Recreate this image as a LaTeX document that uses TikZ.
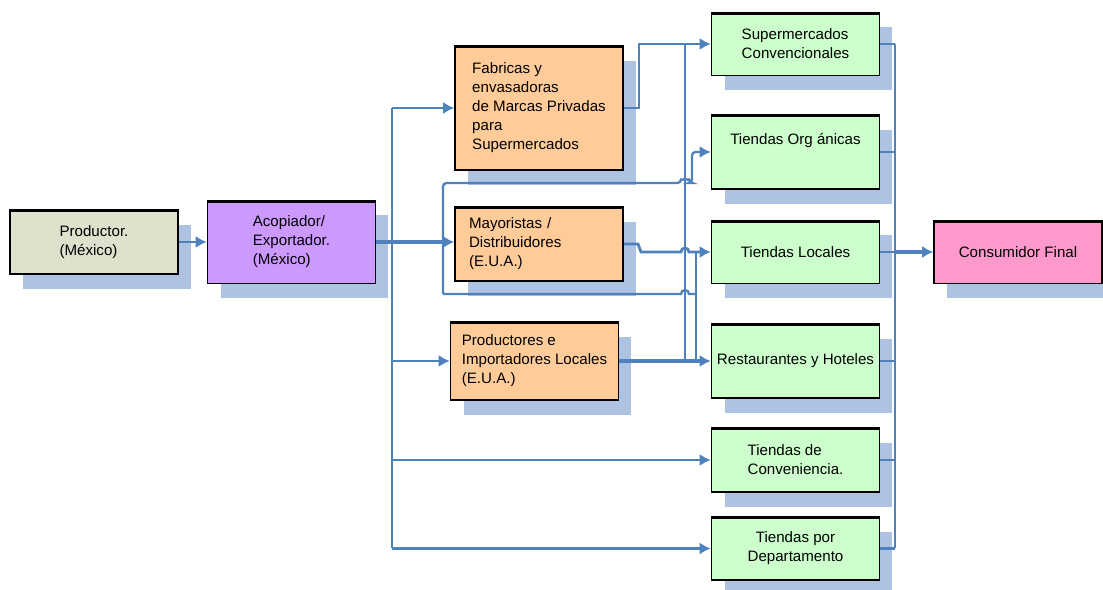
\documentclass[tikz,border=0pt]{standalone}
\usepackage{fontspec}
\setmainfont{Liberation Sans}
\usepackage{tikz}
\usetikzlibrary{arrows.meta,calc,shadows}
\definecolor{flowblue}{RGB}{79,129,189}
\definecolor{shadowblue}{RGB}{174,194,226}
\definecolor{prodfill}{RGB}{221,226,204}
\definecolor{acopfill}{RGB}{204,153,255}
\definecolor{orangefill}{RGB}{255,204,153}
\definecolor{greenfill}{RGB}{204,255,204}
\definecolor{pinkfill}{RGB}{255,153,204}
\tikzset{
    chainbox/.style={
        rectangle,
        draw=black,
        line width=0.9pt,
        minimum width=3.36cm,
        inner sep=3pt,
        align=left,
        font=\fontsize{8.6}{10.8}\selectfont,
        drop shadow={shadow xshift=0.26cm, shadow yshift=-0.3cm, fill=shadowblue, opacity=1},
        path picture={
            \draw[line width=2.4pt] (path picture bounding box.north west) -- (path picture bounding box.north east);
        }
    },
    prodbox/.style={chainbox, fill=prodfill, minimum height=1.28cm},
    acopbox/.style={chainbox, fill=acopfill, minimum height=1.66cm},
    agentbox/.style={chainbox, fill=orangefill},
    outletbox/.style={chainbox, fill=greenfill},
    finalbox/.style={chainbox, fill=pinkfill, minimum height=1.26cm},
    line/.style={
        draw=flowblue,
        line width=1.3pt
    },
    flow/.style={
        ->,
        line,
        >={Latex[length=2.2mm,width=2.4mm]}
    },
    thickflow/.style={
        flow,
        line width=2.2pt
    }
}
\begin{document}
\begin{tikzpicture}[x=0.02cm, y=-0.02cm]
    % Origin
    \node[prodbox] (prod) at (94,242) {Productor.\\(México)};
    \node[acopbox] (acop) at (291.5,242) {Acopiador/\\Exportador.\\(México)};

    % Intermediaries (E.U.A.)
    \node[agentbox, minimum height=2.48cm] (fabr)    at (539,108)   {Fabricas y\\envasadoras\\de Marcas Privadas\\para\\Supermercados};
    \node[agentbox, minimum height=1.48cm, text width=2.8cm] (mayo) at (539,244) {Mayoristas /\\Distribuidores\\(E.U.A.)};
    \node[agentbox, minimum height=1.56cm] (prodloc) at (534.5,361) {Productores e\\Importadores Locales\\(E.U.A.)};

    % Retail outlets
    \node[outletbox, minimum height=1.26cm] (super) at (795.5,44)    {Supermercados\\Convencionales};
    \node[outletbox, minimum height=1.48cm] (organ) at (795.5,152)   {Tiendas Org ánicas\\[4pt]{}};
    \node[outletbox, minimum height=1.26cm] (local) at (795.5,252)   {Tiendas Locales};
    \node[outletbox, minimum height=1.48cm] (resta) at (795.5,361)   {Restaurantes y Hoteles};
    \node[outletbox, minimum height=1.28cm] (conv)  at (795.5,460)   {Tiendas de\\Conveniencia.};
    \node[outletbox, minimum height=1.26cm, align=center] (depto) at (795.5,548.5) {Tiendas por\\Departamento};

    \node[finalbox] (consu) at (1018,252) {Consumidor Final};

    % Bus lines
    \coordinate (busL) at (392,0);
    \coordinate (busN) at (443,0);
    \coordinate (busM) at (685,0);
    \coordinate (busJ) at (696,0);
    \coordinate (busR) at (895,0);

    % --- Origin to exporter to intermediaries ---
    \draw[flow] (prod.east) -- (prod.east -| acop.west);
    \draw[thickflow] (acop.east) -- (acop.east -| mayo.west);
    \draw[line] (busL |- fabr.west) -- (busL |- depto.west);
    \draw[flow] (busL |- fabr.west) -- (fabr.west);
    \draw[flow] (busL |- prodloc.west) -- (prodloc.west);
    \draw[flow] (busL |- conv.west) -- (conv.west);
    \draw[flow] (busL |- depto.west) -- (depto.west);

    % --- Direct branches to organic and local stores ---
    \coordinate (orgTurn) at (443,183);
    \coordinate (lowTurn) at (443,294);
    \draw[flow, rounded corners=2pt] (lowTurn) -- (orgTurn) -- (681,183)
        arc[start angle=180, end angle=0, radius=0.08cm] -- (692,183) -- (692,152) -- (organ.west);
    \draw[line] (lowTurn) -- (681,294)
        arc[start angle=180, end angle=0, radius=0.08cm] -- (busJ |- lowTurn);
    \draw[line] (busJ |- local.west) -- (busJ |- resta.west);

    % --- Intermediaries to outlets ---
    \draw[flow] (fabr.east) -- ++(15,0) |- (super.west);
    \draw[line] (busM |- super.west) -- (busM |- resta.west);
    \draw[flow, line width=1.6pt] (mayo.east) -- (638,244) -- (641,252) -- (681,252)
        arc[start angle=180, end angle=0, radius=0.08cm] -- (local.west);
    \draw[thickflow] (prodloc.east) -- (resta.west);

    % --- Outlets to final consumer ---
    \draw[line] (busR |- super.east) -- (busR |- depto.east);
    \foreach \n in {super,organ,local,resta,conv,depto}
        \draw[line] (\n.east) -- (busR |- \n.east);
    \draw[thickflow] (busR |- local.east) -- (consu.west);

    \useasboundingbox (0,0) rectangle (1103,590);
\end{tikzpicture}
\end{document}
